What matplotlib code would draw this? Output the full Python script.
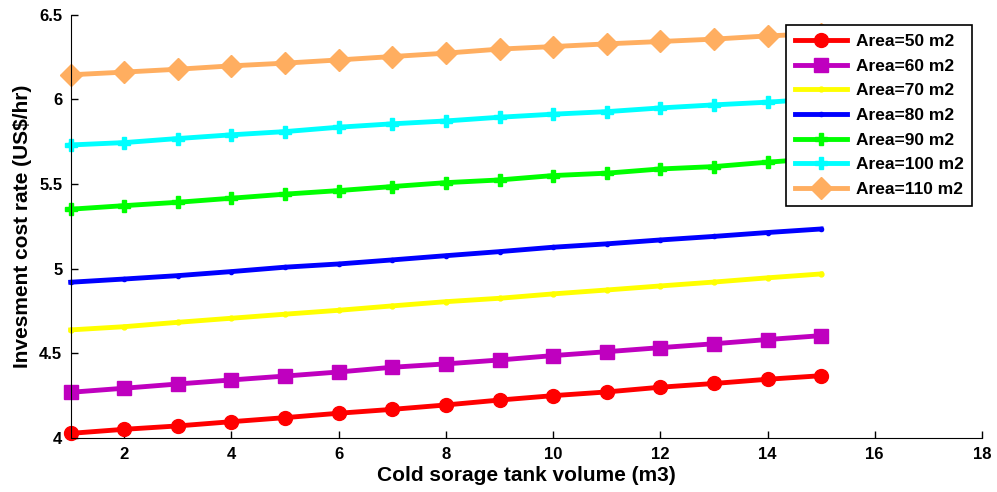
import matplotlib.pyplot as plt

plt.rcParams['font.family'] = ['Liberation Sans', 'DejaVu Sans']
plt.rcParams['font.weight'] = 'bold'

# tank volume (m3)
volume = list(range(1, 16))

# investment cost rate (US$/hr) per collector area
area_50 = [4.025, 4.049, 4.069, 4.094, 4.118, 4.144, 4.167, 4.193, 4.222, 4.248,
           4.270, 4.298, 4.320, 4.345, 4.366]
area_60 = [4.268, 4.292, 4.317, 4.341, 4.364, 4.388, 4.416, 4.436, 4.459, 4.485,
           4.508, 4.532, 4.555, 4.580, 4.603]
area_70 = [4.637, 4.656, 4.682, 4.706, 4.730, 4.753, 4.779, 4.804, 4.824, 4.850,
           4.873, 4.897, 4.920, 4.945, 4.968]
area_80 = [4.919, 4.938, 4.958, 4.982, 5.008, 5.027, 5.051, 5.076, 5.100, 5.126,
           5.146, 5.169, 5.190, 5.213, 5.234]
area_90 = [5.351, 5.372, 5.392, 5.416, 5.440, 5.461, 5.485, 5.508, 5.524, 5.550,
           5.564, 5.589, 5.603, 5.629, 5.652]
area_100 = [5.731, 5.745, 5.769, 5.791, 5.810, 5.836, 5.856, 5.873, 5.895, 5.913,
            5.928, 5.950, 5.968, 5.984, 6.005]
area_110 = [6.146, 6.162, 6.179, 6.199, 6.215, 6.234, 6.254, 6.274, 6.298, 6.313,
            6.329, 6.343, 6.357, 6.376, 6.390]

labels = ["Area=50 m2", "Area=60 m2", "Area=70 m2", "Area=80 m2",
          "Area=90 m2", "Area=100 m2", "Area=110 m2"]
colors = ["#ff0000", "#bf00bf", "#ffff00", "#0000ff", "#00ff00", "#00ffff", "#ffae60"]
markers = ["o", "s", ".", ".", "P", "P", "D"]
msizes = [10, 10, 7, 6, 8, 8, 11]
series = [area_50, area_60, area_70, area_80, area_90, area_100, area_110]

fig = plt.figure(figsize=(9.97, 4.92), dpi=100)
ax = fig.add_axes([0.0709, 0.1106, 0.914, 0.859])

for vals, lab, c, m, ms in zip(series, labels, colors, markers, msizes):
    ax.plot(volume, vals, color=c, marker=m, markersize=ms, linewidth=3.5,
            label=lab, clip_on=False)

ax.set_xlim(1, 18)
ax.set_ylim(4, 6.5)
ax.set_xticks(range(2, 19, 2))
ax.set_yticks([4, 4.5, 5, 5.5, 6, 6.5])
ax.set_yticklabels(["4", "4.5", "5", "5.5", "6", "6.5"])
ax.tick_params(direction="in", labelsize=12, length=5, width=1)
ax.tick_params(axis="x", pad=7)
ax.tick_params(axis="y", pad=6)
for lbl in ax.get_xticklabels() + ax.get_yticklabels():
    lbl.set_fontweight("bold")
ax.spines["top"].set_visible(False)
ax.spines["right"].set_visible(False)

ax.set_xlabel("Cold sorage tank volume (m3)", fontsize=15, fontweight="bold", labelpad=3)
ax.set_ylabel("Invesment cost rate (US$/hr)", fontsize=15, fontweight="bold", labelpad=5)

leg = ax.legend(loc="upper right", bbox_to_anchor=(0.9895, 0.976), fontsize=12.5,
                frameon=True, fancybox=False, edgecolor="black", framealpha=1,
                handlelength=3.0, borderpad=0.5, labelspacing=0.55, handletextpad=0.5,
                borderaxespad=0)
leg.get_frame().set_linewidth(1.2)
leg.set_zorder(10)
for t in leg.get_texts():
    t.set_fontweight("bold")

fig.savefig("out.png", dpi=100)
